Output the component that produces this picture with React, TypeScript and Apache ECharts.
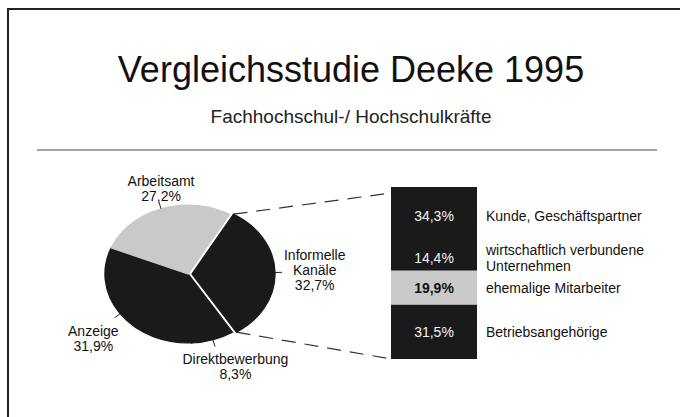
import React, { useEffect, useRef } from 'react';
import * as echarts from 'echarts';

const TITLE = 'Vergleichsstudie Deeke 1995';
const SUBTITLE = 'Fachhochschul-/ Hochschulkräfte';

const pieCategories = ['Informelle\nKanäle', 'Direktbewerbung', 'Anzeige', 'Arbeitsamt'];
const pieValues = [32.7, 8.3, 31.9, 27.2];

const barCategories = [
  'Kunde, Geschäftspartner',
  'wirtschaftlich verbundene\nUnternehmen',
  'ehemalige Mitarbeiter',
  'Betriebsangehörige',
];
const barValues = [34.3, 14.4, 19.9, 31.5];

const DARK = '#1a1a1a';
const LIGHT = '#c9c9c9';
const INK = '#111111';
const FONT = '"Liberation Sans", Arial, Helvetica, sans-serif';
const pieHighlight = 3;
const barHighlight = 2;
const explodedSlice = 0;

const PIE = { cx: 188, cy: 274, rx: 83, ry: 69, explode: 4, startDeg: 60, labelLine: 7 };
const BAR = { left: 391, top: 187, width: 86, height: 172 };
const LABEL_SIZE = 14;
const LABEL_LH = 15;
// small placement tweaks for the pie labels (layout only)
const LABEL_NUDGE: [number, number][] = [[-1, -2], [15, 3], [3, 4], [8, 3]];

const fmt = (v: number) => v.toFixed(1).replace('.', ',') + '%';
const pieTotal = pieValues.reduce((a, b) => a + b, 0);
const barTotal = barValues.reduce((a, b) => a + b, 0);

let measureCtx: CanvasRenderingContext2D | null = null;
function textSize(text: string, fontSize: number, lineHeight: number) {
  if (!measureCtx) measureCtx = document.createElement('canvas').getContext('2d');
  const lines = text.split('\n');
  let w = 0;
  if (measureCtx) {
    measureCtx.font = `${fontSize}px ${FONT}`;
    lines.forEach((l) => { w = Math.max(w, measureCtx!.measureText(l).width); });
  } else {
    w = Math.max(...lines.map((l) => l.length * fontSize * 0.5));
  }
  return { w, h: lines.length * lineHeight };
}

function sliceAngles(i: number) {
  let cum = 0;
  for (let j = 0; j < i; j++) cum += pieValues[j];
  const a0 = PIE.startDeg - (cum / pieTotal) * 360;
  const a1 = a0 - (pieValues[i] / pieTotal) * 360;
  return { a0, a1, mid: (a0 + a1) / 2 };
}
function sliceOffset(i: number): [number, number] {
  if (i !== explodedSlice) return [0, 0];
  const m = (sliceAngles(i).mid * Math.PI) / 180;
  return [PIE.explode * Math.cos(m), -PIE.explode * Math.sin(m) * (PIE.ry / PIE.rx)];
}
function rimPoint(i: number, deg: number): [number, number] {
  const [ox, oy] = sliceOffset(i);
  const r = (deg * Math.PI) / 180;
  return [PIE.cx + ox + PIE.rx * Math.cos(r), PIE.cy + oy - PIE.ry * Math.sin(r)];
}

export default function App() {
  const ref = useRef<HTMLDivElement>(null);
  useEffect(() => {
    if (!ref.current) return;
    const chart = echarts.init(ref.current, undefined, { renderer: 'svg' });

    const ex = sliceAngles(explodedSlice);
    const upperStart = rimPoint(explodedSlice, ex.a0);
    const lowerStart = rimPoint(explodedSlice, ex.a1);

    const barSeries: any[] = barValues.map((v, i) => ({
      type: 'bar',
      name: barCategories[i],
      stack: 'share',
      xAxisIndex: 0,
      yAxisIndex: 0,
      barWidth: '100%',
      data: [v],
      z: 3,
      itemStyle: { color: i === barHighlight ? LIGHT : DARK },
      label: {
        show: true,
        position: 'inside',
        formatter: () => fmt(v),
        color: i === barHighlight ? INK : '#f2f2f2',
        fontWeight: i === barHighlight ? 'bold' : 'normal',
        fontSize: LABEL_SIZE,
        fontFamily: FONT,
      },
    }));
    const nameSeries: any[] = barValues.map((v, i) => ({
      type: 'bar',
      name: barCategories[i] + ' ',
      stack: 'names',
      xAxisIndex: 1,
      yAxisIndex: 1,
      barWidth: '100%',
      data: [v],
      silent: true,
      z: 2,
      itemStyle: { color: 'rgba(0,0,0,0)' },
      label: {
        show: true,
        position: 'right',
        distance: 9,
        formatter: () => barCategories[i],
        color: INK,
        fontSize: LABEL_SIZE,
        lineHeight: 16,
        fontFamily: FONT,
      },
    }));

    chart.setOption({
      animation: false,
      backgroundColor: '#ffffff',
      title: [
        {
          text: TITLE,
          left: 346,
          top: 46,
          textAlign: 'center',
          textStyle: { fontSize: 36, fontWeight: 'normal', color: INK, fontFamily: FONT },
        },
        {
          text: SUBTITLE,
          left: 346,
          top: 102,
          textAlign: 'center',
          textStyle: { fontSize: 19, fontWeight: 'normal', color: '#222', fontFamily: FONT },
        },
      ],
      grid: [
        { left: BAR.left, top: BAR.top, width: BAR.width, height: BAR.height },
        { left: BAR.left, top: BAR.top, width: BAR.width, height: BAR.height },
      ],
      xAxis: [
        { type: 'category', gridIndex: 0, data: ['Informelle Kanäle'], show: false },
        { type: 'category', gridIndex: 1, data: ['Informelle Kanäle'], show: false },
      ],
      yAxis: [
        { type: 'value', gridIndex: 0, min: 0, max: barTotal, inverse: true, show: false },
        { type: 'value', gridIndex: 1, min: 0, max: barTotal, inverse: true, show: false },
      ],
      graphic: [
        { type: 'line', z: 1, shape: { x1: 7, y1: 9, x2: 680, y2: 9 }, style: { stroke: '#222', lineWidth: 2 } },
        { type: 'line', z: 1, shape: { x1: 8, y1: 9, x2: 8, y2: 417 }, style: { stroke: '#222', lineWidth: 2 } },
        { type: 'line', z: 1, shape: { x1: 37, y1: 150, x2: 657, y2: 150 }, style: { stroke: '#444', lineWidth: 1 } },
        {
          type: 'line', z: 0,
          shape: { x1: upperStart[0], y1: upperStart[1], x2: BAR.left, y2: BAR.top + 6 },
          style: { stroke: '#333', lineWidth: 1.2, lineDash: [14, 9] },
        },
        {
          type: 'line', z: 0,
          shape: { x1: lowerStart[0], y1: lowerStart[1], x2: BAR.left, y2: BAR.top + BAR.height },
          style: { stroke: '#333', lineWidth: 1.2, lineDash: [14, 9] },
        },
      ],
      series: [
        {
          type: 'custom',
          name: 'Einstellungswege',
          coordinateSystem: 'none',
          z: 5,
          data: pieValues.map((v, i) => ({ name: pieCategories[i].replace('\n', ' '), value: [v] })),
          renderItem: (params: any, api: any) => {
            const i = params.dataIndex;
            const v = api.value(0);
            const { a0, a1, mid } = sliceAngles(i);
            const [ox, oy] = sliceOffset(i);
            const m = (mid * Math.PI) / 180;
            const dx = Math.cos(m);
            const dy = -Math.sin(m);
            const rim = rimPoint(i, mid);
            const end: [number, number] = [rim[0] + dx * PIE.labelLine, rim[1] + dy * PIE.labelLine];
            const text = pieCategories[i] + '\n' + fmt(v);
            const sz = textSize(text, LABEL_SIZE, LABEL_LH);
            const hw = sz.w / 2 + 3;
            const hh = sz.h / 2 + 2;
            const t = Math.min(
              Math.abs(dx) > 1e-6 ? hw / Math.abs(dx) : Infinity,
              Math.abs(dy) > 1e-6 ? hh / Math.abs(dy) : Infinity,
            );
            const nudge = LABEL_NUDGE[i] || [0, 0];
            const tc = [end[0] + dx * t + nudge[0], end[1] + dy * t + nudge[1]];
            const fill = i === pieHighlight ? LIGHT : DARK;
            return {
              type: 'group',
              children: [
                {
                  type: 'sector',
                  x: PIE.cx + ox,
                  y: PIE.cy + oy,
                  scaleY: PIE.ry / PIE.rx,
                  shape: {
                    cx: 0, cy: 0, r: PIE.rx, r0: 0,
                    startAngle: (-a0 * Math.PI) / 180,
                    endAngle: (-a1 * Math.PI) / 180,
                    clockwise: true,
                  },
                  style: { fill, stroke: fill, lineWidth: 1.4 },
                },
                {
                  type: 'line',
                  shape: { x1: rim[0], y1: rim[1], x2: end[0], y2: end[1] },
                  style: { stroke: '#222', lineWidth: 1 },
                },
                {
                  type: 'text',
                  x: tc[0],
                  y: tc[1],
                  style: {
                    text,
                    fill: INK,
                    fontSize: LABEL_SIZE,
                    fontFamily: FONT,
                    lineHeight: LABEL_LH,
                    align: 'center',
                    verticalAlign: 'middle',
                  },
                },
              ],
            };
          },
        },
        ...barSeries,
        ...nameSeries,
      ],
    });
    return () => chart.dispose();
  }, []);

  return (
    <div
      ref={ref}
      style={{ position: 'absolute', left: 0, top: 0, width: 680, height: 417, background: '#fff' }}
    />
  );
}
